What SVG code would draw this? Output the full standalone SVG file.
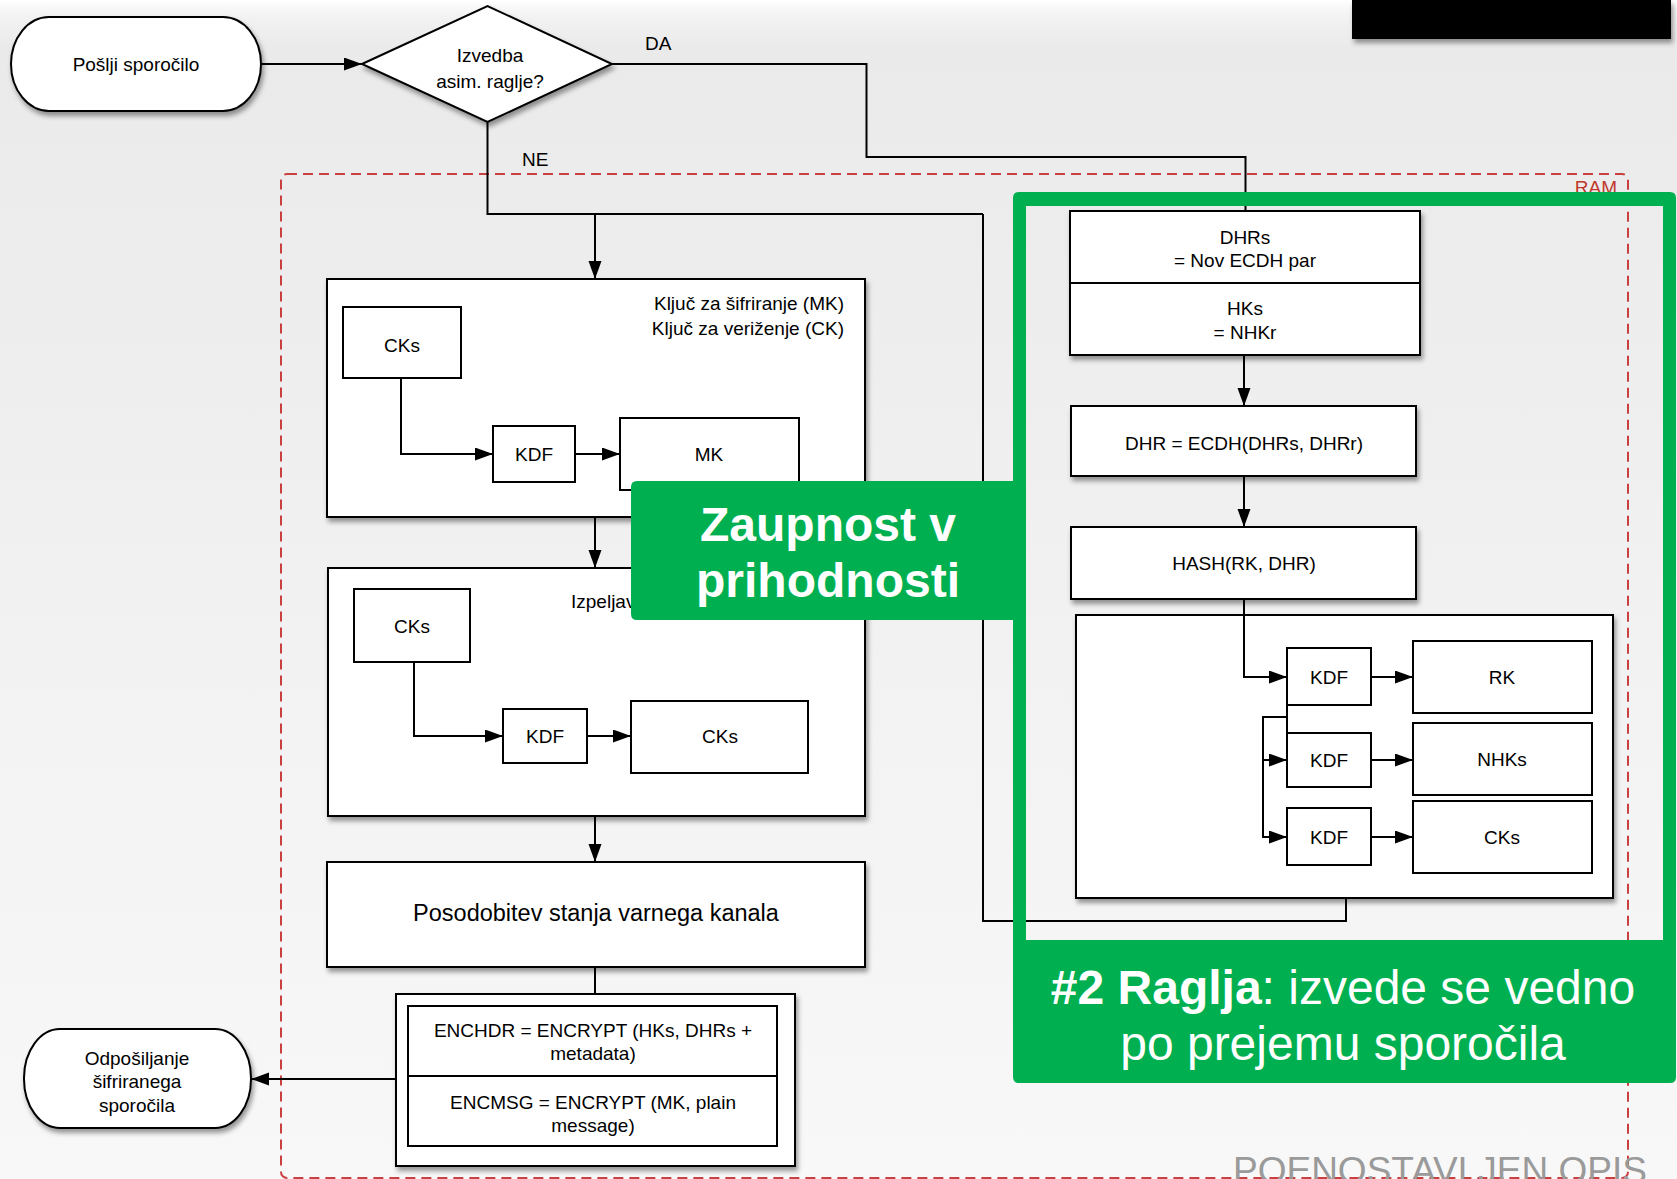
<svg xmlns="http://www.w3.org/2000/svg" width="1677" height="1179" viewBox="0 0 1677 1179">
<defs>
<linearGradient id="bg" x1="0" y1="0" x2="0" y2="1">
<stop offset="0" stop-color="#ffffff"/>
<stop offset="0.012" stop-color="#f3f3f3"/>
<stop offset="0.04" stop-color="#eaeaea"/>
<stop offset="0.5" stop-color="#f1f1f1"/>
<stop offset="1" stop-color="#f8f8f8"/>
</linearGradient>
<filter id="sh" x="-10%" y="-10%" width="130%" height="140%">
<feDropShadow dx="2" dy="4" stdDeviation="2.5" flood-color="#000" flood-opacity="0.4"/>
</filter>
<marker id="ar" markerUnits="userSpaceOnUse" markerWidth="19" markerHeight="14" refX="18" refY="6.5" orient="auto">
<path d="M0,0 L18,6.5 L0,13 z" fill="#000"/>
</marker>
<style>
.t{font-family:"Liberation Sans",Arial,Helvetica,sans-serif;font-size:19px;fill:#000;text-anchor:middle}
.b{fill:#fff;stroke:#000;stroke-width:2}
.s{filter:url(#sh)}
.c{fill:none;stroke:#000;stroke-width:2}
.a{marker-end:url(#ar)}
.g{fill:#00b050}
.w{font-family:"Liberation Sans",Arial,Helvetica,sans-serif;font-size:48px;fill:#fff;text-anchor:middle}
</style>
</defs>
<rect x="0" y="0" width="1677" height="1179" fill="url(#bg)"/>
<rect x="1352" y="0" width="319" height="39" fill="#000" filter="url(#sh)"/>

<g id="ram">
<rect x="281" y="174" width="1347" height="1004" rx="6" fill="none" stroke="#c84040" stroke-width="2" stroke-dasharray="10 6"/>
<text x="1617" y="194" style="font-family:'Liberation Sans',Arial,sans-serif;font-size:19px;fill:#c0392b;text-anchor:end">RAM</text>
</g>

<g id="connectors">
<path class="c a" d="M261,64 H362"/>
<path class="c" d="M612,64 H866.5 V157 H1245.5 V211"/>
<path class="c" d="M487.5,122 V214 H983"/>
<path class="c a" d="M595,214 V279"/>
<path class="c a" d="M595,517 V568"/>
<path class="c a" d="M595,816 V862"/>
<path class="c" d="M595,967 V994"/>
<path class="c a" d="M396,1079 H251"/>
<path class="c" d="M1346,898 V921 H983 V214"/>
<path class="c a" d="M1244,355 V406"/>
<path class="c a" d="M1244,476 V527"/>
</g>

<g id="start">
<rect class="b s" x="11" y="17" width="250" height="94" rx="38" ry="47"/>
<text class="t" x="136" y="71">Pošlji sporočilo</text>
</g>
<g id="decision">
<polygon class="b s" points="362,64 487.5,6 612,64 487.5,122"/>
<text class="t" x="490" y="62">Izvedba</text>
<text class="t" x="490" y="88">asim. raglje?</text>
</g>
<g id="label-da"><text class="t" x="645" y="50" style="text-anchor:start">DA</text></g>
<g id="label-ne"><text class="t" x="522" y="166" style="text-anchor:start">NE</text></g>

<g id="box1">
<rect class="b s" x="327" y="279" width="538" height="238"/>
<text class="t" x="844" y="310" style="text-anchor:end">Ključ za šifriranje (MK)</text>
<text class="t" x="844" y="335" style="text-anchor:end">Ključ za veriženje (CK)</text>
</g>
<g id="box1-cks"><rect class="b" x="343" y="307" width="118" height="71"/><text class="t" x="402" y="352">CKs</text></g>
<g id="box1-kdf"><rect class="b" x="493" y="426" width="82" height="56"/><text class="t" x="534" y="461">KDF</text></g>
<g id="box1-mk"><rect class="b" x="620" y="418" width="179" height="72"/><text class="t" x="709" y="461">MK</text></g>
<g id="box1-connectors">
<path class="c a" d="M401,378 V454 H493"/>
<path class="c a" d="M575,454 H620"/>
</g>

<g id="box2">
<rect class="b s" x="328" y="568" width="537" height="248"/>
<text class="t" x="571" y="608" style="text-anchor:start">Izpeljav</text>
</g>
<g id="box2-cks"><rect class="b" x="354" y="589" width="116" height="73"/><text class="t" x="412" y="633">CKs</text></g>
<g id="box2-kdf"><rect class="b" x="503" y="709" width="84" height="54"/><text class="t" x="545" y="743">KDF</text></g>
<g id="box2-cks2"><rect class="b" x="631" y="701" width="177" height="72"/><text class="t" x="720" y="743">CKs</text></g>
<g id="box2-connectors">
<path class="c a" d="M414,662 V736 H503"/>
<path class="c a" d="M587,736 H631"/>
</g>

<g id="update">
<rect class="b s" x="327" y="862" width="538" height="105"/>
<text class="t" x="596" y="921" style="font-size:23.5px">Posodobitev stanja varnega kanala</text>
</g>
<g id="encrypt">
<rect class="b s" x="396" y="994" width="399" height="172"/>
<rect class="b" x="408" y="1006" width="369" height="140"/>
<line x1="408" y1="1076" x2="777" y2="1076" stroke="#000" stroke-width="2"/>
<text class="t" x="593" y="1037">ENCHDR = ENCRYPT (HKs, DHRs +</text>
<text class="t" x="593" y="1060">metadata)</text>
<text class="t" x="593" y="1109">ENCMSG = ENCRYPT (MK, plain</text>
<text class="t" x="593" y="1132">message)</text>
</g>
<g id="send">
<rect class="b s" x="24" y="1029" width="227" height="99" rx="36" ry="49"/>
<text class="t" x="137" y="1065">Odpošiljanje</text>
<text class="t" x="137" y="1088">šifriranega</text>
<text class="t" x="137" y="1112">sporočila</text>
</g>

<g id="dhrs">
<rect class="b s" x="1070" y="211" width="350" height="144"/>
<line x1="1070" y1="283" x2="1420" y2="283" stroke="#000" stroke-width="2"/>
<text class="t" x="1245" y="244">DHRs</text>
<text class="t" x="1245" y="267">= Nov ECDH par</text>
<text class="t" x="1245" y="315">HKs</text>
<text class="t" x="1245" y="339">= NHKr</text>
</g>
<g id="dhr"><rect class="b s" x="1071" y="406" width="345" height="70"/><text class="t" x="1244" y="450">DHR = ECDH(DHRs, DHRr)</text></g>
<g id="hash"><rect class="b s" x="1071" y="527" width="345" height="72"/><text class="t" x="1244" y="570">HASH(RK, DHR)</text></g>
<g id="kdfbox"><rect class="b s" x="1076" y="615" width="537" height="283"/></g>
<g id="kdfbox-connectors">
<path class="c a" d="M1244,599 V677 H1287"/>
<path class="c a" d="M1371,677 H1413"/>
<path class="c a" d="M1371,760 H1413"/>
<path class="c a" d="M1371,837 H1413"/>
<path class="c a" d="M1287,705 V717 H1263 V837 H1287"/>
<path class="c a" d="M1263,760 H1287"/>
<path class="c" d="M1287,717 V733"/>
</g>
<g id="kdf1"><rect class="b" x="1287" y="648" width="84" height="57"/><text class="t" x="1329" y="684">KDF</text></g>
<g id="rk"><rect class="b" x="1413" y="641" width="179" height="72"/><text class="t" x="1502" y="684">RK</text></g>
<g id="kdf2"><rect class="b" x="1287" y="733" width="84" height="54"/><text class="t" x="1329" y="767">KDF</text></g>
<g id="nhks"><rect class="b" x="1413" y="723" width="179" height="72"/><text class="t" x="1502" y="766">NHKs</text></g>
<g id="kdf3"><rect class="b" x="1287" y="808" width="84" height="57"/><text class="t" x="1329" y="844">KDF</text></g>
<g id="cks-r"><rect class="b" x="1413" y="801" width="179" height="72"/><text class="t" x="1502" y="844">CKs</text></g>

<g id="callout-frame">
<path class="g" fill-rule="evenodd" d="M1019,192 H1670 Q1676,192 1676,198 V1077 Q1676,1083 1670,1083 H1019 Q1013,1083 1013,1077 V198 Q1013,192 1019,192 Z M1026,206 V940 H1663 V206 Z"/>
<text class="w" x="1343" y="1004"><tspan font-weight="bold">#2 Raglja</tspan>: izvede se vedno</text>
<text class="w" x="1343" y="1060">po prejemu sporočila</text>
</g>
<g id="callout-zaupnost">
<path class="g" d="M637,481 H1026 V620 H637 Q631,620 631,614 V487 Q631,481 637,481 Z"/>
<text class="w" x="828" y="541" font-weight="bold">Zaupnost v</text>
<text class="w" x="828" y="597" font-weight="bold">prihodnosti</text>
</g>

<g id="footer">
<text x="1233" y="1183" style="font-family:'Liberation Sans',Arial,sans-serif;font-size:37px;fill:#9a9a9a">POENOSTAVLJEN OPIS</text>
</g>
</svg>
